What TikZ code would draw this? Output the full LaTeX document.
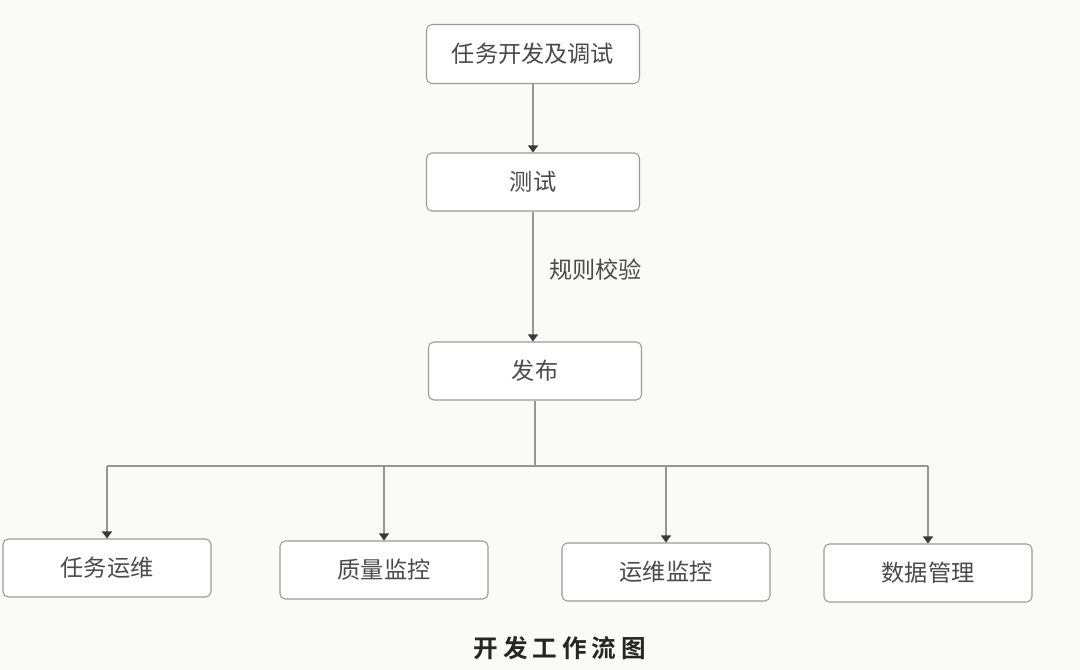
\documentclass[tikz,border=0pt]{standalone}
\usepackage{fontspec}
\newfontfamily\cjk{Noto Sans CJK SC}
\newfontfamily\cjkb{Noto Sans CJK SC Bold}
\usetikzlibrary{arrows.meta}
\definecolor{bg}{HTML}{FAFAF8}
\definecolor{boxline}{HTML}{9A9A9A}
\definecolor{txt}{HTML}{4A4A4A}
\definecolor{conn}{HTML}{959595}
\definecolor{tipc}{HTML}{3A3A3A}
\begin{document}
\begin{tikzpicture}[x=0.02cm,y=-0.02cm,
  stepbox/.style={draw=boxline,line width=0.6pt,rounded corners=3pt,fill=white,
    minimum width=4.16cm,minimum height=1.16cm,inner sep=0pt,
    font=\cjk\fontsize{13.2pt}{15pt}\selectfont,text=txt},
  link/.style={draw=conn,line width=0.6pt},
  arr/.style={link,-{Triangle[width=0.2cm,length=0.14cm,fill=tipc,color=tipc]}},
  lbl/.style={font=\cjk\fontsize{13.2pt}{15pt}\selectfont,text=txt,inner sep=0pt}
]
\fill[bg] (0,0) rectangle (1080,670);
\useasboundingbox (0,0) rectangle (1080,670);

\node[stepbox,minimum width=4.26cm,minimum height=1.18cm] (dev) at (533,54) {任务开发及调试};
\node[stepbox,minimum width=4.26cm,minimum height=1.16cm] (test) at (533,182) {测试};
\node[stepbox,minimum width=4.26cm,minimum height=1.16cm] (pub) at (535,371) {发布};

\node[stepbox] (ops) at (107,568) {任务运维};
\node[stepbox] (qual) at (384,570) {质量监控};
\node[stepbox] (mon) at (666,572) {运维监控};
\node[stepbox] (data) at (928,573) {数据管理};

\node[lbl,anchor=west] (rule) at (549,270) {规则校验};

\draw[arr] (dev.south) -- (test.north);
\draw[arr] (test.south) -- (test.south |- pub.north);

\coordinate (hub) at (pub.south |- 0,466);
\draw[link] (pub.south) -- (hub);
\draw[link] (ops.north |- hub) -- (data.north |- hub);
\draw[arr] (ops.north |- hub) -- (ops.north);
\draw[arr] (qual.north |- hub) -- (qual.north);
\draw[arr] (mon.north |- hub) -- (mon.north);
\draw[arr] (data.north |- hub) -- (data.north);

\node[font=\cjkb\fontsize{14pt}{16pt}\selectfont,text=black!85,inner sep=0pt] (cap) at (560,648) {开\hspace{0.2em}发\hspace{0.2em}工\hspace{0.2em}作\hspace{0.2em}流\hspace{0.2em}图};
\end{tikzpicture}
\end{document}
